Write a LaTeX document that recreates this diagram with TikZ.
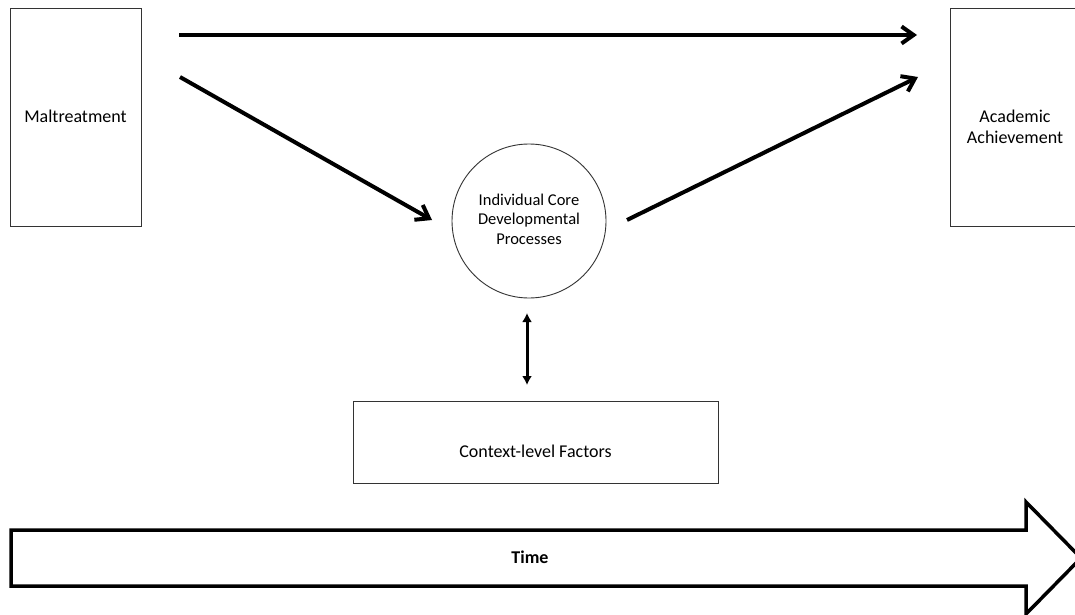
\documentclass[tikz,border=0pt]{standalone}
\usepackage{fontspec}
\setmainfont{Carlito}
\usetikzlibrary{arrows.meta}
\begin{document}
\begin{tikzpicture}[x=1pt,y=-1pt,
  box/.style={draw=black!80, line width=0.9pt, inner sep=0pt},
  lbl/.style={font=\fontsize{18}{21.5}\selectfont, align=center, inner sep=0pt},
  small/.style={font=\fontsize{16.5}{19.5}\selectfont, align=center, inner sep=0pt},
  flow/.style={line width=4pt, -{Straight Barb[length=12pt,width=17pt]}},
  both/.style={line width=3pt, {Latex[length=9pt,width=10pt]}-{Latex[length=9pt,width=10pt]}},
  timearrow/.style={draw=black, line width=3.5pt, line join=miter, fill=white}]

% canvas
\fill[white] (0,0) rectangle (1075,615);
\useasboundingbox (0,0) rectangle (1075,615);

% boxes and the process circle
\node[box, minimum width=131pt, minimum height=218pt] (mal) at (75.5,117) {};
\node[lbl] (maltxt) at (75.5,116) {Maltreatment};
\node[box, minimum width=130pt, minimum height=218pt] (acad) at (1015,117) {};
\node[lbl] (acadtxt) at (1015,127) {Academic\\Achievement};
\node[box, circle, minimum size=154pt] (proc) at (529,221) {};
\node[small] (proctxt) at (529,219) {Individual Core\\Developmental\\Processes};
\node[box, minimum width=365pt, minimum height=82pt] (ctx) at (535.5,442) {};
\node[lbl] (ctxtxt) at (535.5,451) {Context-level Factors};

% connector end points
\coordinate (a1) at (179,35);
\coordinate (b1) at (917,35);
\coordinate (a2) at (180,77);
\coordinate (b2) at (432,220);
\coordinate (a3) at (627,220);
\coordinate (b3) at (918,77);
\coordinate (up) at (527,313);
\coordinate (down) at (527,385);

\draw[flow] (a1) -- (b1);
\draw[flow] (a2) -- (b2);
\draw[flow] (a3) -- (b3);
\draw[both] (up) -- (down);

% time arrow
\draw[timearrow] (11,530) -- (1026,530) -- (1026,502) -- (1081,558)
  -- (1026,614) -- (1026,586) -- (11,586) -- cycle;
\node[font=\fontsize{18}{21}\selectfont\bfseries] (time) at (530,557) {Time};
\end{tikzpicture}
\end{document}
